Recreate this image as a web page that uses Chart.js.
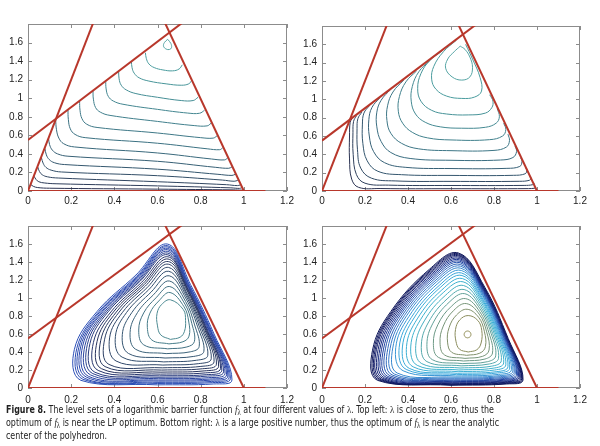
<!DOCTYPE html>
<html lang="en">
<head>
<meta charset="UTF-8">
<title>Figure 8 - logarithmic barrier level sets</title>
<script src="https://cdn.jsdelivr.net/npm/chart.js"></script>
<style>
    body { margin: 0; background: #fff; width: 600px; height: 446px; position: relative; overflow: hidden; }
    canvas { position: absolute; }
    #caption {
        position: absolute; left: 6px; top: 403px; white-space: nowrap;
        font-family: "Liberation Sans Narrow", "DejaVu Sans Condensed", "Liberation Sans", sans-serif;
        font-size: 10.5px; line-height: 13px; color: #222;
        transform: scaleX(0.84); transform-origin: 0 0;
    }
    #caption b { font-weight: bold; }
    .m { font-family: "Liberation Serif", serif; line-height: 0; }
    .m sub { font-size: 8px; vertical-align: -2px; line-height: 0; }
</style>
</head>
<body>
<canvas id="tl" width="300" height="215" style="left:0;top:0"></canvas>
<canvas id="tr" width="300" height="215" style="left:300px;top:0"></canvas>
<canvas id="bl" width="300" height="195" style="left:0;top:215px"></canvas>
<canvas id="br" width="300" height="195" style="left:300px;top:215px"></canvas>
<div id="caption">
    <b>Figure 8.</b> The level sets of a logarithmic barrier function <span class="m"><i>f</i><sub>λ</sub></span> at four different values of <span class="m">λ</span>. Top left: <span class="m">λ</span> is close to zero, thus the<br>
    optimum of <span class="m"><i>f</i><sub>λ</sub></span> is near the LP optimum. Bottom right: <span class="m">λ</span> is a large positive number, thus the optimum of <span class="m"><i>f</i><sub>λ</sub></span> is near the analytic<br>
    center of the polyhedron.
</div>
<script>
    // axis ticks
    const xTicks = [0, 0.2, 0.4, 0.6, 0.8, 1, 1.2];
    const yTicks = [0, 0.2, 0.4, 0.6, 0.8, 1, 1.2, 1.4, 1.6];

    // the four constraints (same in every panel), x0,y0,x1,y1
    const line1 = [0, 0, 0.31, 1.86];
    const line2 = [0, 0.55, 0.73, 1.84];
    const line3 = [1, 0, 0.623, 1.87];
    const line4 = [0, 0, 1.1, 0];

    // top left: lambda close to zero
    const tlLoop = [0.647,1.635, 0.632,1.60, 0.628,1.56, 0.64,1.53, 0.655,1.525, 0.665,1.545, 0.662,1.59, 0.647,1.635];
    const tlCurves = [
        [0.544,1.49, 0.548,1.43, 0.56,1.37, 0.585,1.33, 0.625,1.305, 0.67,1.295, 0.70,1.315, 0.715,1.36],
        [0.479,1.40, 0.482,1.33, 0.492,1.27, 0.515,1.22, 0.56,1.185, 0.64,1.155, 0.71,1.14, 0.745,1.155, 0.758,1.19],
        [0.42,1.29, 0.422,1.21, 0.432,1.14, 0.455,1.09, 0.50,1.05, 0.6,1.01, 0.71,0.975, 0.765,0.975, 0.788,1.01],
        [0.36,1.19, 0.362,1.10, 0.372,1.02, 0.395,0.97, 0.44,0.935, 0.6,0.88, 0.74,0.84, 0.795,0.838, 0.818,0.87],
        [0.301,1.08, 0.303,0.99, 0.313,0.90, 0.335,0.85, 0.38,0.815, 0.6,0.75, 0.77,0.705, 0.83,0.702, 0.848,0.73],
        [0.239,0.97, 0.241,0.87, 0.25,0.78, 0.272,0.72, 0.32,0.685, 0.6,0.625, 0.80,0.575, 0.858,0.57, 0.876,0.595],
        [0.185,0.88, 0.187,0.77, 0.196,0.67, 0.218,0.61, 0.265,0.575, 0.6,0.515, 0.83,0.455, 0.888,0.445, 0.902,0.465],
        [0.128,0.77, 0.132,0.66, 0.143,0.57, 0.165,0.51, 0.215,0.475, 0.6,0.41, 0.85,0.345, 0.91,0.335, 0.925,0.355],
        [0.095,0.57, 0.10,0.50, 0.113,0.44, 0.137,0.40, 0.185,0.375, 0.6,0.32, 0.87,0.255, 0.93,0.245, 0.945,0.26],
        [0.078,0.46, 0.085,0.39, 0.098,0.34, 0.122,0.305, 0.17,0.285, 0.6,0.235, 0.88,0.18, 0.945,0.168, 0.96,0.18],
        [0.062,0.36, 0.07,0.30, 0.083,0.255, 0.107,0.225, 0.155,0.205, 0.6,0.165, 0.9,0.118, 0.955,0.105, 0.972,0.115],
        [0.045,0.26, 0.053,0.21, 0.066,0.175, 0.09,0.153, 0.14,0.14, 0.6,0.10, 0.92,0.068, 0.97,0.058, 0.984,0.066],
        [0.028,0.16, 0.037,0.125, 0.05,0.10, 0.075,0.087, 0.13,0.078, 0.6,0.055, 0.94,0.034, 0.98,0.028, 0.99,0.036],
        [0.013,0.07, 0.025,0.05, 0.045,0.037, 0.1,0.03, 0.6,0.02, 0.95,0.012, 0.99,0.01, 0.996,0.015]
    ];

    // top right: moderate lambda
    const trLoop = [0.643,1.58, 0.615,1.52, 0.585,1.44, 0.575,1.34, 0.605,1.245, 0.65,1.21, 0.688,1.245, 0.70,1.35, 0.688,1.46, 0.665,1.545, 0.643,1.58];
    const trCurves = [
        [0.625,1.645, 0.565,1.52, 0.52,1.36, 0.51,1.22, 0.53,1.11, 0.58,1.035, 0.65,1.01, 0.71,1.025, 0.742,1.09, 0.735,1.24, 0.70,1.44, 0.668,1.60],
        [0.56,1.53, 0.50,1.42, 0.46,1.28, 0.445,1.12, 0.46,0.98, 0.51,0.88, 0.58,0.84, 0.68,0.83, 0.76,0.85, 0.79,0.91, 0.795,0.98, 0.78,1.05],
        [0.50,1.42, 0.45,1.30, 0.42,1.14, 0.415,0.98, 0.435,0.84, 0.48,0.75, 0.55,0.70, 0.65,0.685, 0.76,0.695, 0.81,0.74, 0.825,0.81, 0.815,0.90],
        [0.44,1.31, 0.39,1.19, 0.36,1.03, 0.355,0.87, 0.375,0.74, 0.42,0.64, 0.49,0.58, 0.6,0.557, 0.78,0.56, 0.84,0.60, 0.855,0.67, 0.845,0.74],
        [0.38,1.21, 0.33,1.08, 0.305,0.93, 0.302,0.77, 0.32,0.63, 0.37,0.52, 0.45,0.46, 0.6,0.44, 0.8,0.443, 0.858,0.48, 0.872,0.55, 0.865,0.62],
        [0.32,1.11, 0.275,0.99, 0.255,0.86, 0.255,0.70, 0.275,0.54, 0.32,0.42, 0.41,0.355, 0.6,0.335, 0.83,0.338, 0.888,0.365, 0.905,0.43, 0.898,0.49],
        [0.27,1.02, 0.232,0.91, 0.218,0.78, 0.22,0.60, 0.24,0.43, 0.29,0.31, 0.39,0.258, 0.6,0.245, 0.86,0.247, 0.92,0.268, 0.93,0.32, 0.925,0.36],
        [0.22,0.93, 0.195,0.85, 0.188,0.73, 0.19,0.52, 0.21,0.33, 0.26,0.215, 0.37,0.178, 0.6,0.17, 0.89,0.171, 0.945,0.188, 0.953,0.23, 0.948,0.25],
        [0.185,0.86, 0.167,0.79, 0.163,0.68, 0.165,0.45, 0.18,0.25, 0.23,0.14, 0.34,0.11, 0.6,0.105, 0.92,0.106, 0.965,0.117, 0.972,0.14, 0.968,0.155],
        [0.16,0.82, 0.147,0.76, 0.144,0.64, 0.145,0.40, 0.16,0.18, 0.2,0.085, 0.31,0.064, 0.6,0.06, 0.94,0.061, 0.98,0.069, 0.986,0.085, 0.984,0.09],
        [0.14,0.79, 0.131,0.75, 0.128,0.60, 0.128,0.35, 0.138,0.13, 0.17,0.04, 0.27,0.027, 0.6,0.025, 0.96,0.026, 0.99,0.031, 0.995,0.04]
    ];

    // bottom left: larger lambda, closed level sets (inner -> outer)
    const blCurves = [
        [0.66,0.54, 0.705,0.565, 0.725,0.63, 0.73,0.75, 0.72,0.87, 0.66,0.98, 0.62,0.93, 0.598,0.83, 0.60,0.69, 0.615,0.59],
        [0.653,0.490, 0.718,0.514, 0.746,0.576, 0.745,0.733, 0.723,0.902, 0.658,1.061, 0.606,0.967, 0.565,0.832, 0.553,0.671, 0.574,0.533],
        [0.647,0.435, 0.736,0.456, 0.771,0.517, 0.759,0.716, 0.727,0.933, 0.657,1.127, 0.593,1.002, 0.536,0.834, 0.513,0.644, 0.536,0.480],
        [0.640,0.382, 0.752,0.402, 0.793,0.460, 0.772,0.701, 0.730,0.962, 0.655,1.189, 0.581,1.035, 0.507,0.837, 0.473,0.618, 0.499,0.430],
        [0.635,0.333, 0.768,0.351, 0.815,0.408, 0.785,0.687, 0.733,0.988, 0.654,1.247, 0.570,1.065, 0.481,0.838, 0.437,0.594, 0.466,0.383],
        [0.629,0.290, 0.780,0.308, 0.833,0.363, 0.795,0.674, 0.735,1.011, 0.652,1.297, 0.559,1.091, 0.457,0.840, 0.405,0.574, 0.436,0.343],
        [0.625,0.255, 0.791,0.271, 0.849,0.325, 0.804,0.664, 0.737,1.030, 0.651,1.340, 0.551,1.113, 0.438,0.841, 0.378,0.557, 0.408,0.300],
        [0.622,0.224, 0.801,0.240, 0.862,0.292, 0.812,0.655, 0.738,1.047, 0.650,1.376, 0.544,1.133, 0.422,0.843, 0.355,0.542, 0.375,0.262],
        [0.619,0.199, 0.809,0.214, 0.873,0.265, 0.819,0.648, 0.741,1.061, 0.650,1.405, 0.538,1.148, 0.409,0.844, 0.337,0.530, 0.357,0.238],
        [0.616,0.176, 0.816,0.190, 0.883,0.241, 0.824,0.641, 0.742,1.073, 0.649,1.433, 0.533,1.162, 0.396,0.845, 0.320,0.518, 0.340,0.215],
        [0.613,0.154, 0.822,0.168, 0.892,0.218, 0.829,0.635, 0.743,1.085, 0.648,1.458, 0.527,1.176, 0.384,0.845, 0.303,0.505, 0.325,0.195],
        [0.609,0.135, 0.826,0.148, 0.898,0.197, 0.832,0.629, 0.741,1.095, 0.645,1.481, 0.520,1.188, 0.371,0.846, 0.287,0.494, 0.310,0.175],
        [0.607,0.119, 0.831,0.132, 0.906,0.180, 0.836,0.625, 0.743,1.104, 0.645,1.500, 0.517,1.198, 0.363,0.847, 0.275,0.484, 0.300,0.160],
        [0.606,0.103, 0.837,0.115, 0.913,0.163, 0.841,0.620, 0.744,1.113, 0.645,1.519, 0.514,1.208, 0.355,0.847, 0.264,0.474, 0.290,0.145],
        [0.605,0.088, 0.842,0.100, 0.920,0.147, 0.845,0.615, 0.745,1.121, 0.645,1.537, 0.511,1.217, 0.347,0.848, 0.253,0.465, 0.280,0.130],
        [0.604,0.076, 0.846,0.087, 0.926,0.133, 0.849,0.612, 0.746,1.128, 0.645,1.552, 0.508,1.225, 0.341,0.848, 0.244,0.457, 0.271,0.120],
        [0.602,0.062, 0.851,0.073, 0.932,0.119, 0.852,0.608, 0.748,1.135, 0.645,1.568, 0.506,1.233, 0.334,0.849, 0.235,0.448, 0.262,0.108],
        [0.601,0.050, 0.855,0.060, 0.938,0.106, 0.856,0.604, 0.749,1.142, 0.645,1.582, 0.503,1.241, 0.328,0.849, 0.226,0.440, 0.254,0.097],
        [0.600,0.035, 0.860,0.045, 0.945,0.090, 0.862,0.600, 0.753,1.150, 0.645,1.600, 0.500,1.255, 0.320,0.850, 0.215,0.430, 0.245,0.085]
    ];

    // bottom right: large lambda, optimum near the analytic center
    const brLoop = [0.677,0.557, 0.686,0.564, 0.692,0.583, 0.692,0.607, 0.686,0.626, 0.677,0.633, 0.668,0.626, 0.662,0.607, 0.662,0.583, 0.668,0.564];
    const brCurves = [
        [0.68,0.40, 0.72,0.425, 0.74,0.50, 0.743,0.64, 0.725,0.75, 0.68,0.805, 0.64,0.755, 0.621,0.65, 0.623,0.52, 0.64,0.43],
        [0.672,0.363, 0.734,0.387, 0.760,0.459, 0.755,0.631, 0.728,0.787, 0.675,0.875, 0.626,0.812, 0.591,0.670, 0.584,0.510, 0.603,0.397],
        [0.665,0.329, 0.747,0.352, 0.777,0.422, 0.766,0.623, 0.731,0.821, 0.671,0.938, 0.613,0.863, 0.564,0.688, 0.549,0.501, 0.570,0.367],
        [0.658,0.300, 0.758,0.322, 0.793,0.389, 0.776,0.616, 0.733,0.850, 0.668,0.993, 0.602,0.908, 0.539,0.704, 0.518,0.493, 0.541,0.341],
        [0.652,0.271, 0.769,0.292, 0.808,0.357, 0.786,0.609, 0.735,0.879, 0.664,1.048, 0.591,0.952, 0.516,0.720, 0.488,0.485, 0.513,0.315],
        [0.647,0.246, 0.778,0.267, 0.821,0.329, 0.794,0.603, 0.737,0.904, 0.661,1.094, 0.582,0.990, 0.496,0.733, 0.462,0.478, 0.488,0.293],
        [0.642,0.222, 0.787,0.242, 0.834,0.303, 0.802,0.597, 0.739,0.928, 0.658,1.139, 0.573,1.027, 0.476,0.746, 0.436,0.472, 0.464,0.271],
        [0.637,0.200, 0.796,0.220, 0.845,0.279, 0.809,0.591, 0.741,0.950, 0.656,1.180, 0.564,1.060, 0.458,0.758, 0.413,0.466, 0.443,0.252],
        [0.633,0.181, 0.803,0.200, 0.855,0.257, 0.815,0.587, 0.743,0.969, 0.653,1.216, 0.557,1.089, 0.443,0.768, 0.393,0.461, 0.424,0.235],
        [0.629,0.163, 0.810,0.181, 0.865,0.237, 0.821,0.582, 0.744,0.987, 0.651,1.250, 0.550,1.117, 0.428,0.778, 0.374,0.456, 0.406,0.218],
        [0.626,0.148, 0.815,0.167, 0.873,0.221, 0.826,0.579, 0.745,1.002, 0.649,1.278, 0.545,1.139, 0.416,0.786, 0.359,0.452, 0.392,0.206],
        [0.622,0.133, 0.821,0.151, 0.881,0.204, 0.831,0.575, 0.747,1.017, 0.648,1.306, 0.539,1.162, 0.404,0.794, 0.343,0.448, 0.377,0.192],
        [0.619,0.120, 0.826,0.137, 0.888,0.190, 0.835,0.572, 0.748,1.030, 0.646,1.331, 0.534,1.183, 0.393,0.801, 0.329,0.444, 0.350,0.166],
        [0.617,0.108, 0.830,0.126, 0.894,0.177, 0.839,0.569, 0.749,1.042, 0.645,1.353, 0.530,1.200, 0.384,0.808, 0.317,0.441, 0.337,0.155],
        [0.615,0.098, 0.834,0.115, 0.899,0.165, 0.843,0.566, 0.750,1.052, 0.643,1.373, 0.526,1.217, 0.375,0.813, 0.306,0.438, 0.326,0.145],
        [0.612,0.087, 0.838,0.104, 0.905,0.154, 0.846,0.564, 0.750,1.063, 0.642,1.392, 0.522,1.232, 0.367,0.819, 0.295,0.435, 0.316,0.136],
        [0.611,0.079, 0.842,0.095, 0.909,0.144, 0.849,0.562, 0.751,1.071, 0.641,1.408, 0.518,1.245, 0.360,0.824, 0.286,0.433, 0.306,0.128],
        [0.609,0.070, 0.845,0.086, 0.914,0.135, 0.852,0.560, 0.752,1.080, 0.640,1.424, 0.515,1.258, 0.353,0.828, 0.277,0.431, 0.298,0.120],
        [0.607,0.063, 0.848,0.078, 0.918,0.126, 0.854,0.558, 0.752,1.087, 0.639,1.439, 0.512,1.270, 0.346,0.832, 0.269,0.429, 0.290,0.113],
        [0.605,0.055, 0.851,0.070, 0.922,0.117, 0.857,0.556, 0.753,1.095, 0.638,1.453, 0.509,1.282, 0.340,0.837, 0.261,0.427, 0.283,0.106],
        [0.604,0.047, 0.853,0.063, 0.926,0.109, 0.859,0.554, 0.754,1.103, 0.637,1.467, 0.507,1.293, 0.334,0.841, 0.253,0.425, 0.276,0.100],
        [0.602,0.041, 0.856,0.057, 0.929,0.103, 0.861,0.553, 0.754,1.109, 0.636,1.478, 0.504,1.302, 0.329,0.844, 0.247,0.423, 0.270,0.095],
        [0.601,0.036, 0.858,0.051, 0.932,0.097, 0.863,0.551, 0.755,1.114, 0.636,1.489, 0.502,1.311, 0.325,0.847, 0.241,0.422, 0.264,0.090],
        [0.600,0.030, 0.860,0.045, 0.935,0.090, 0.866,0.550, 0.757,1.120, 0.635,1.500, 0.500,1.320, 0.320,0.850, 0.235,0.420, 0.258,0.085]
    ];

    // ---- helpers ----
    const pts = a => {
        const r = [];
        for (let i = 0; i < a.length; i += 2) r.push({x: a[i], y: a[i + 1]});
        return r;
    };
    const ring = a => { const p = pts(a); p.push(p[0]); return p; };

    // colour ramp between a few stops (styling only)
    function ramp(stops, n) {
        const c = stops.map(h => [1, 3, 5].map(i => parseInt(h.substr(i, 2), 16)));
        const out = [];
        for (let i = 0; i < n; i++) {
            const t = n === 1 ? 0 : i / (n - 1) * (c.length - 1);
            const k = Math.min(Math.floor(t), c.length - 2), f = t - k;
            const rgb = c[k].map((v, j) => Math.round(v + (c[k + 1][j] - v) * f));
            out.push('rgb(' + rgb.join(',') + ')');
        }
        return out;
    }

    const red = '#b8372b';
    const redLines = [line1, line2, line3, line4].map(l => ({
        data: pts(l), showLine: true, borderColor: red, borderWidth: 2, pointRadius: 0, tension: 0
    }));

    function curveSets(list, colors, closed, width) {
        return list.map((c, i) => ({
            data: closed ? ring(c) : pts(c),
            showLine: true, borderColor: colors[i], borderWidth: width, pointRadius: 0, tension: 0.4
        }));
    }

    // box with inward ticks on all four sides, matlab style
    const frame = {
        id: 'frame',
        beforeDatasetsDraw(chart) {
            const {ctx, chartArea: a, scales} = chart;
            ctx.save();
            ctx.strokeStyle = '#8c8c8c';
            ctx.lineWidth = 1;
            ctx.strokeRect(a.left + 0.5, a.top + 0.5, a.right - a.left - 1, a.bottom - a.top - 1);
            ctx.beginPath();
            xTicks.forEach(v => {
                const p = Math.round(scales.x.getPixelForValue(v)) + 0.5;
                ctx.moveTo(p, a.bottom); ctx.lineTo(p, a.bottom - 4);
                ctx.moveTo(p, a.top); ctx.lineTo(p, a.top + 4);
            });
            yTicks.forEach(v => {
                const p = Math.round(scales.y.getPixelForValue(v)) + 0.5;
                ctx.moveTo(a.left, p); ctx.lineTo(a.left + 4, p);
                ctx.moveTo(a.right, p); ctx.lineTo(a.right - 4, p);
            });
            ctx.stroke();
            ctx.restore();
        }
    };

    const tickFont = {family: 'Liberation Sans, Arial, sans-serif', size: 10};

    function panel(id, sets, yWidth, xHeight, padTop, padRight, labelPad) {
        return new Chart(document.getElementById(id), {
            type: 'scatter',
            data: {datasets: redLines.concat(sets)},
            options: {
                responsive: false,
                animation: false,
                events: [],
                layout: {padding: {left: 0, top: padTop, right: padRight, bottom: 0}},
                plugins: {legend: {display: false}, tooltip: {enabled: false}},
                scales: {
                    x: {
                        type: 'linear', min: 0, max: 1.2,
                        afterBuildTicks: s => { s.ticks = xTicks.map(v => ({value: v})); },
                        afterFit: s => { s.height = xHeight; },
                        grid: {display: false, drawTicks: false},
                        border: {display: false},
                        ticks: {font: tickFont, color: '#222', padding: labelPad, maxRotation: 0, callback: v => String(v)}
                    },
                    y: {
                        type: 'linear', min: 0, max: 1.8,
                        afterBuildTicks: s => { s.ticks = yTicks.map(v => ({value: v})); },
                        afterFit: s => { s.width = yWidth; },
                        grid: {display: false, drawTicks: false},
                        border: {display: false},
                        ticks: {font: tickFont, color: '#222', padding: 5, callback: v => String(v)}
                    }
                }
            },
            plugins: [frame]
        });
    }

    const tlCol = ramp(['#4a9c9e', '#3a6d80', '#2b3352'], tlCurves.length);
    const trCol = ramp(['#4a9c9e', '#3a6d80', '#2b3352'], trCurves.length);
    const blCol = ramp(['#4d8a92', '#33506e', '#27325c', '#2a45a6', '#2c4fb8'], blCurves.length);
    const brCol = ramp(['#8a8c5c', '#6a9a8a', '#3fb4cc', '#3aa8dc', '#3878c8', '#1e3a9a', '#111b68', '#0c1458'], brCurves.length);

    panel('tl', [{data: pts(tlLoop), showLine: true, borderColor: '#55a4a4', borderWidth: 1, pointRadius: 0, tension: 0.4}]
        .concat(curveSets(tlCurves, tlCol, false, 1)), 28, 24, 24, 13, 4);
    panel('tr', [{data: pts(trLoop), showLine: true, borderColor: '#55a4a4', borderWidth: 1, pointRadius: 0, tension: 0.4}]
        .concat(curveSets(trCurves, trCol, false, 1)), 22, 24, 26, 20, 4);
    panel('bl', curveSets(blCurves, blCol, true, 1), 28, 22, 9, 13, 6);
    panel('br', [{data: ring(brLoop), showLine: true, borderColor: '#8e8a52', borderWidth: 1, pointRadius: 0, tension: 0.4}]
        .concat(curveSets(brCurves, brCol, true, 1)), 22, 22, 9, 20, 6);
</script>
</body>
</html>
